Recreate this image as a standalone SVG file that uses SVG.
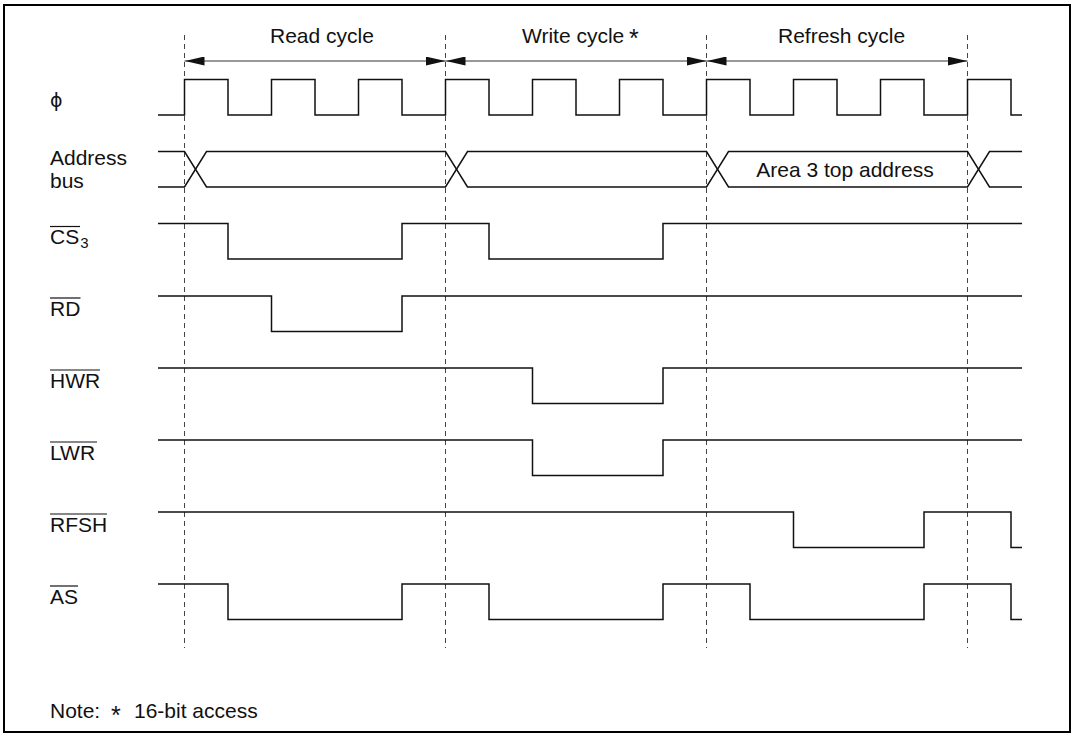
<svg xmlns="http://www.w3.org/2000/svg" width="1074" height="737" viewBox="0 0 1074 737">
  <style>
    text { font-family: "Liberation Sans", Arial, sans-serif; font-size: 21px; fill: #111; }
    .sub { font-size: 15px; }
    .star { font-size: 25px; }
    .phi { font-family: "DejaVu Sans", "Liberation Sans", sans-serif; font-size: 19px; }
    .wave { fill: none; stroke: #111; stroke-width: 1.5; }
    .ovl { stroke: #111; stroke-width: 1.2; }
    .dash { stroke: #444; stroke-width: 1; stroke-dasharray: 5 4; }
    .dim { stroke: #333; stroke-width: 1; }
  </style>
  <defs>
    <marker id="ah" markerWidth="20" markerHeight="9" refX="20" refY="4.5" orient="auto-start-reverse" markerUnits="userSpaceOnUse">
      <path d="M0,0 L20,4.5 L0,9 z" fill="#111"/>
    </marker>
  </defs>
  <rect x="0" y="0" width="1074" height="737" fill="#fff"/>
  <rect x="4" y="5" width="1066" height="727" fill="none" stroke="#000" stroke-width="2"/>

  <g id="connectors">
    <line class="dash" x1="184.5" y1="35" x2="184.5" y2="648"/>
    <line class="dash" x1="445.5" y1="35" x2="445.5" y2="648"/>
    <line class="dash" x1="706.5" y1="35" x2="706.5" y2="648"/>
    <line class="dash" x1="967.5" y1="35" x2="967.5" y2="648"/>
    <line class="dim" x1="184.5" y1="61" x2="445.5" y2="61" marker-start="url(#ah)" marker-end="url(#ah)"/>
    <line class="dim" x1="445.5" y1="61" x2="706.5" y2="61" marker-start="url(#ah)" marker-end="url(#ah)"/>
    <line class="dim" x1="706.5" y1="61" x2="967.5" y2="61" marker-start="url(#ah)" marker-end="url(#ah)"/>
  </g>

  <g id="cycle-labels">
    <text x="270" y="43">Read cycle</text>
    <text x="522" y="43">Write cycle</text>
    <text class="star" x="629" y="47">*</text>
    <text x="778" y="43">Refresh cycle</text>
  </g>

  <g id="phi">
    <text class="phi" x="50" y="107">ϕ</text>
    <path class="wave" d="M158,115 H184.5 V79.5 H228 V115 H271.5 V79.5 H315 V115 H358.5 V79.5 H402 V115 H445.5 V79.5 H489 V115 H532.5 V79.5 H576 V115 H619.5 V79.5 H663 V115 H706.5 V79.5 H750 V115 H793.5 V79.5 H837 V115 H880.5 V79.5 H924 V115 H967.5 V79.5 H1011 V115 H1022"/>
  </g>

  <g id="address-bus">
    <text x="50" y="165">Address</text>
    <text x="50" y="188">bus</text>
    <path class="wave" d="M158,151.5 H184.5 L206.5,187 H445.5 L467.5,151.5 H706.5 L728.5,187 H967.5 L989.5,151.5 H1022"/>
    <path class="wave" d="M158,187 H184.5 L206.5,151.5 H445.5 L467.5,187 H706.5 L728.5,151.5 H967.5 L989.5,187 H1022"/>
    <text x="845" y="177" text-anchor="middle">Area 3 top address</text>
  </g>

  <g id="cs3">
    <text x="50" y="244">CS<tspan class="sub" dx="1" dy="4">3</tspan></text>
    <line class="ovl" x1="50" y1="226.5" x2="80" y2="226.5"/>
    <path class="wave" d="M158,223.5 H228 V259 H402 V223.5 H489 V259 H663 V223.5 H1022"/>
  </g>

  <g id="rd">
    <text x="50" y="316">RD</text>
    <line class="ovl" x1="50" y1="298" x2="80.5" y2="298"/>
    <path class="wave" d="M158,296 H271.5 V331.5 H402 V296 H1022"/>
  </g>

  <g id="hwr">
    <text x="50" y="388">HWR</text>
    <line class="ovl" x1="50" y1="370" x2="100" y2="370"/>
    <path class="wave" d="M158,368 H532.5 V403.5 H663 V368 H1022"/>
  </g>

  <g id="lwr">
    <text x="50" y="460">LWR</text>
    <line class="ovl" x1="50" y1="442" x2="97" y2="442"/>
    <path class="wave" d="M158,440 H532.5 V475.5 H663 V440 H1022"/>
  </g>

  <g id="rfsh">
    <text x="50" y="532">RFSH</text>
    <line class="ovl" x1="50" y1="514" x2="107" y2="514"/>
    <path class="wave" d="M158,512 H793.5 V547.5 H924 V512 H1011 V547.5 H1022"/>
  </g>

  <g id="as">
    <text x="50" y="604">AS</text>
    <line class="ovl" x1="50" y1="586" x2="78" y2="586"/>
    <path class="wave" d="M158,584 H228 V619.5 H402 V584 H489 V619.5 H663 V584 H750 V619.5 H924 V584 H1011 V619.5 H1022"/>
  </g>

  <g id="note">
    <text x="50" y="718">Note:</text>
    <text class="star" x="111" y="724">*</text>
    <text x="134" y="718">16-bit access</text>
  </g>
</svg>
